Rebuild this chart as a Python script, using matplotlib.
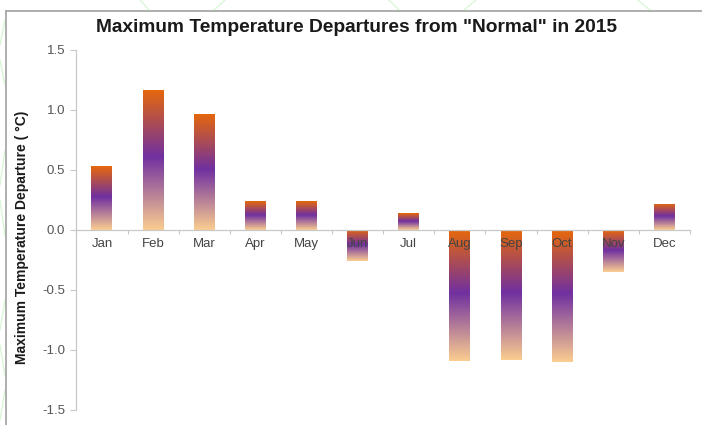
import numpy as np
import matplotlib
matplotlib.use("Agg")
import matplotlib.pyplot as plt
from matplotlib.colors import LinearSegmentedColormap
from matplotlib.lines import Line2D

months = ["Jan", "Feb", "Mar", "Apr", "May", "Jun",
          "Jul", "Aug", "Sep", "Oct", "Nov", "Dec"]
departures = [0.53, 1.17, 0.97, 0.24, 0.24, -0.26,
              0.14, -1.09, -1.08, -1.10, -0.35, 0.22]
yticks = [-1.5, -1.0, -0.5, 0.0, 0.5, 1.0, 1.5]

plt.rcParams["font.family"] = ["Liberation Sans", "DejaVu Sans"]

W, H = 702, 425
fig = plt.figure(figsize=(W / 100, H / 100), dpi=100)
fig.patch.set_facecolor("white")

ax = fig.add_axes([76.4 / W, 1 - 410 / H, 613.6 / W, 360 / H])
ax.set_facecolor("white")

# peach at the bottom of each bar, purple in the middle, orange on top
cmap = LinearSegmentedColormap.from_list(
    "sunset", [(0.0, "#fbcd90"), (0.52, "#7030a0"), (1.0, "#e6680b")])
grad = np.linspace(0, 1, 256).reshape(-1, 1)

x = np.arange(len(months))
bars = ax.bar(x, departures, width=0.41, facecolor="none", edgecolor="none", zorder=1)
for rect in bars:
    x0, y0 = rect.get_x(), rect.get_y()
    w, h = rect.get_width(), rect.get_height()
    lo, hi = min(y0, y0 + h), max(y0, y0 + h)
    im = ax.imshow(grad, extent=[x0, x0 + w, lo, hi], origin="lower",
                   aspect="auto", cmap=cmap, zorder=1, interpolation="bilinear")
    im.set_clip_path(rect)

ax.set_xlim(-0.5, len(months) - 0.5)
ax.set_ylim(-1.5, 1.5)

for s in ["top", "right"]:
    ax.spines[s].set_visible(False)
ax.spines["bottom"].set_position(("data", 0))
ax.spines["left"].set_color("#c8c8c8")
ax.spines["bottom"].set_color("#c8c8c8")
ax.spines["left"].set_linewidth(0.9)
ax.spines["bottom"].set_linewidth(0.9)

ax.set_yticks(yticks)
ax.set_yticklabels([f"{v:.1f}" for v in yticks])
ax.tick_params(axis="y", direction="out", length=4, width=0.8, color="#c8c8c8",
               labelsize=9.5, labelcolor="#555555", pad=4)

ax.set_xticks(x)
ax.set_xticklabels(months)
ax.set_xticks(np.arange(len(months) + 1) - 0.5, minor=True)
ax.tick_params(axis="x", which="major", length=0, labelsize=9.5,
               labelcolor="#444444", pad=6)
ax.tick_params(axis="x", which="minor", direction="out", length=3,
               width=0.8, color="#c8c8c8")
for lbl in ax.get_xticklabels():
    lbl.set_zorder(5)

fig.text(357 / W, 1 - 27 / H, 'Maximum Temperature Departures from "Normal" in 2015',
         ha="center", va="center", fontsize=13.8, fontweight="bold", color="#1a1a1a")
fig.text(22 / W, 1 - 237 / H, "Maximum Temperature Departure ( \u00b0C)",
         rotation=90, ha="center", va="center", fontsize=10,
         fontweight="bold", color="#1a1a1a")


def px_line(x1, y1, x2, y2, **kw):
    fig.add_artist(Line2D([x1 / W, x2 / W], [1 - y1 / H, 1 - y2 / H],
                          transform=fig.transFigure, **kw))


# faint green strokes peeking out around the panel
green = dict(color="#d6f6d3", lw=0.9)
for seg in [(140, 0, 150, 11), (225, 0, 213, 11), (389, 0, 400, 11),
            (476, 0, 463, 11), (638, 0, 651, 11),
            (5, 20, 0, 45), (0, 60, 5, 85), (5, 150, 0, 185), (0, 200, 5, 235),
            (5, 300, 0, 330), (0, 345, 5, 375), (5, 390, 0, 420)]:
    px_line(*seg, **green)

# panel border
frame = dict(color="#a8a8a8", lw=1.3)
px_line(6, 11, W, 11, **frame)
px_line(6, 11, 6, H, **frame)

fig.savefig("out.png", dpi=100)
